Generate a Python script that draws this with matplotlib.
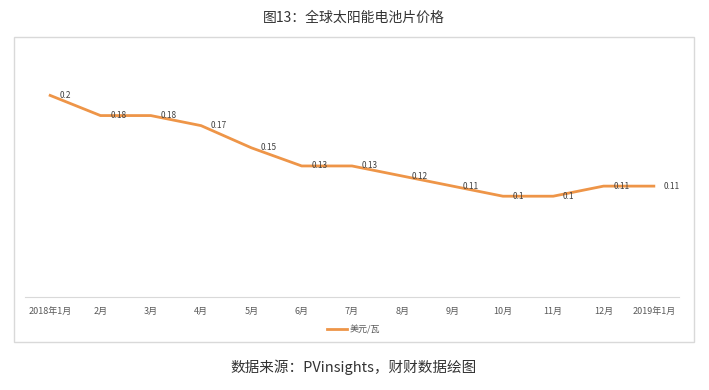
import matplotlib.pyplot as plt
from matplotlib.patches import Rectangle

plt.rcParams['font.family'] = ['Noto Sans CJK SC', 'DejaVu Sans']

# Data
months = ["2018年1月", "2月", "3月", "4月", "5月", "6月", "7月",
          "8月", "9月", "10月", "11月", "12月", "2019年1月"]
prices = [0.20, 0.18, 0.18, 0.17, 0.148, 0.13, 0.13, 0.12, 0.11, 0.10, 0.10, 0.11, 0.11]
labels = ["0.2", "0.18", "0.18", "0.17", "0.15", "0.13", "0.13",
          "0.12", "0.11", "0.1", "0.1", "0.11", "0.11"]

W, H = 709, 390
fig = plt.figure(figsize=(W / 100, H / 100), dpi=100)

# Outer frame
fig.patches.append(Rectangle((14 / W, 1 - 342 / H), 680 / W, 305 / H,
                             transform=fig.transFigure, fill=False,
                             edgecolor="#d9d9d9", linewidth=1))

# Title and source
fig.text(354 / W, 1 - 18 / H, "图13：全球太阳能电池片价格", ha="center", va="center",
         fontsize=10, color="#333333")
fig.text(354 / W, 1 - 367 / H, "数据来源：PVinsights，财财数据绘图", ha="center", va="center",
         fontsize=10.5, color="#333333")

# Axes
ax = fig.add_axes([25 / W, 1 - 297 / H, 654 / W, 252 / H])
x = range(len(months))
line, = ax.plot(x, prices, color="#EE9548", linewidth=2.0, solid_joinstyle="round")
for xi, yi, lab in zip(x, prices, labels):
    ax.annotate(lab, (xi, yi), xytext=(7, 0), textcoords="offset points",
                ha="left", va="center", fontsize=6, color="#404040")

ax.set_xlim(-0.5, len(months) - 0.5)
ax.set_ylim(0, 0.25)
ax.set_xticks(list(x))
ax.set_xticklabels(months, fontsize=6.5, color="#595959")
ax.tick_params(axis="x", length=0, pad=7)
ax.set_yticks([])
for s in ["top", "left", "right"]:
    ax.spines[s].set_visible(False)
ax.spines["bottom"].set_color("#d9d9d9")

# Legend
fig.legend([line], ["美元/瓦"], loc="center", bbox_to_anchor=(354 / W, 1 - 330 / H),
           frameon=False, fontsize=6.5, handlelength=2.2, handletextpad=0.3,
           labelcolor="#595959")

fig.savefig("out.png", dpi=100)
